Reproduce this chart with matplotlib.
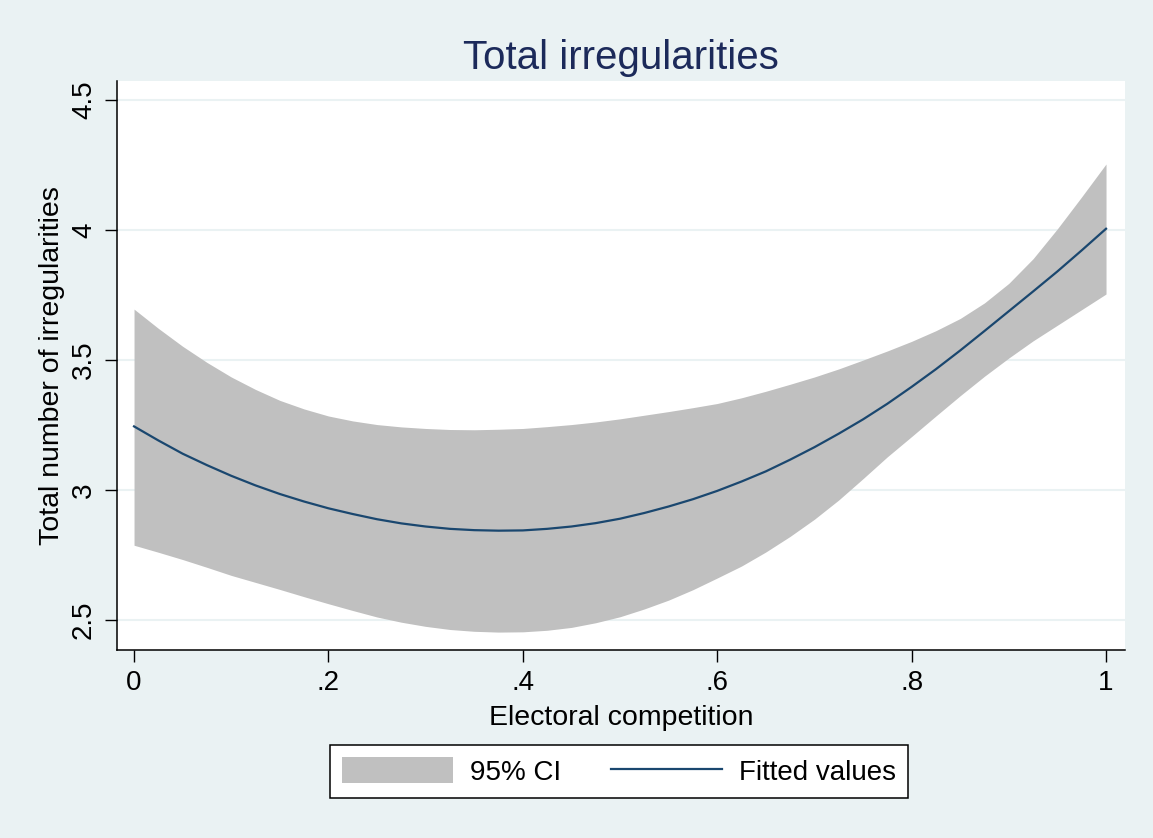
import matplotlib.pyplot as plt
from matplotlib.patches import Patch
from matplotlib.lines import Line2D

plt.rcParams['font.family'] = ['Liberation Sans', 'DejaVu Sans']

# values
competition = [0.000, 0.025, 0.050, 0.075, 0.100, 0.125, 0.150, 0.175, 0.200, 0.225,
               0.250, 0.275, 0.300, 0.325, 0.350, 0.375, 0.400, 0.425, 0.450, 0.475,
               0.500, 0.525, 0.550, 0.575, 0.600, 0.625, 0.650, 0.675, 0.700, 0.725,
               0.750, 0.775, 0.800, 0.825, 0.850, 0.875, 0.900, 0.925, 0.950, 0.975,
               1.000]
fitted = [3.245, 3.191, 3.140, 3.096, 3.055, 3.018, 2.985, 2.956, 2.930, 2.908,
          2.888, 2.872, 2.860, 2.851, 2.846, 2.844, 2.845, 2.851, 2.860, 2.873,
          2.890, 2.912, 2.937, 2.965, 2.997, 3.033, 3.072, 3.117, 3.165, 3.217,
          3.272, 3.332, 3.397, 3.465, 3.537, 3.612, 3.688, 3.764, 3.841, 3.922,
          4.005]
ci_upper = [3.696, 3.622, 3.553, 3.491, 3.435, 3.387, 3.345, 3.312, 3.285, 3.266,
            3.252, 3.243, 3.237, 3.233, 3.232, 3.234, 3.237, 3.244, 3.252, 3.262,
            3.274, 3.288, 3.302, 3.317, 3.333, 3.355, 3.380, 3.407, 3.435, 3.466,
            3.500, 3.535, 3.572, 3.613, 3.660, 3.720, 3.795, 3.890, 4.005, 4.128,
            4.254]
ci_lower = [2.788, 2.761, 2.733, 2.703, 2.672, 2.645, 2.618, 2.590, 2.563, 2.537,
            2.512, 2.492, 2.476, 2.464, 2.457, 2.454, 2.455, 2.461, 2.472, 2.490,
            2.513, 2.543, 2.577, 2.617, 2.662, 2.708, 2.762, 2.822, 2.888, 2.962,
            3.044, 3.128, 3.206, 3.285, 3.363, 3.438, 3.508, 3.574, 3.634, 3.694,
            3.754]

xticks = [0, 0.2, 0.4, 0.6, 0.8, 1.0]
xtick_labels = ["0", ".2", ".4", ".6", ".8", "1"]
yticks = [2.5, 3, 3.5, 4, 4.5]
ytick_labels = ["2.5", "3", "3.5", "4", "4.5"]

bg = "#EAF2F3"
navy = "#1A476F"
ci_grey = "#C0C0C0"

fig = plt.figure(figsize=(11.53, 8.38), dpi=100, facecolor=bg)
ax = fig.add_axes([0.1015, 0.2243, 0.8742, 0.679])
ax.set_facecolor("white")

ax.fill_between(competition, ci_lower, ci_upper, color=ci_grey, linewidth=0, zorder=2)
ax.plot(competition, fitted, color=navy, linewidth=1.6, zorder=3)

ax.set_xlim(-0.0175, 1.0195)
ax.set_ylim(2.385, 4.573)
ax.set_xticks(xticks)
ax.set_xticklabels(xtick_labels)
ax.set_yticks(yticks)
ax.set_yticklabels(ytick_labels, rotation=90, va="center")

ax.grid(axis="y", color=bg, linewidth=1.5, zorder=1)
ax.set_axisbelow(True)

for side in ["top", "right"]:
    ax.spines[side].set_visible(False)
for side in ["left", "bottom"]:
    ax.spines[side].set_color("black")
    ax.spines[side].set_linewidth(1.1)

ax.tick_params(axis="both", direction="out", length=8.5, width=1.0,
               labelsize=20, pad=6)

ax.set_xlabel("Electoral competition", fontsize=20.5, labelpad=6)
ax.set_ylabel("Total number of irregularities", fontsize=20.5, labelpad=4)
ax.set_title("Total irregularities", fontsize=29, color="#1C2A5A", pad=9)

handles = [Patch(facecolor=ci_grey, edgecolor="none"),
           Line2D([0], [0], color=navy, linewidth=1.6)]
leg = fig.legend(handles, ["95% CI", "Fitted values"], loc="center",
                 bbox_to_anchor=(619 / 1153, 1 - 771.5 / 838), ncol=2,
                 fontsize=20, frameon=True, fancybox=False, edgecolor="black",
                 facecolor="white", framealpha=1, handlelength=4.0,
                 handleheight=1.05, handletextpad=0.6, columnspacing=1.8,
                 borderpad=0.45, borderaxespad=0)
leg.get_frame().set_linewidth(1.1)

plt.savefig("out.png", dpi=100, facecolor=bg)
